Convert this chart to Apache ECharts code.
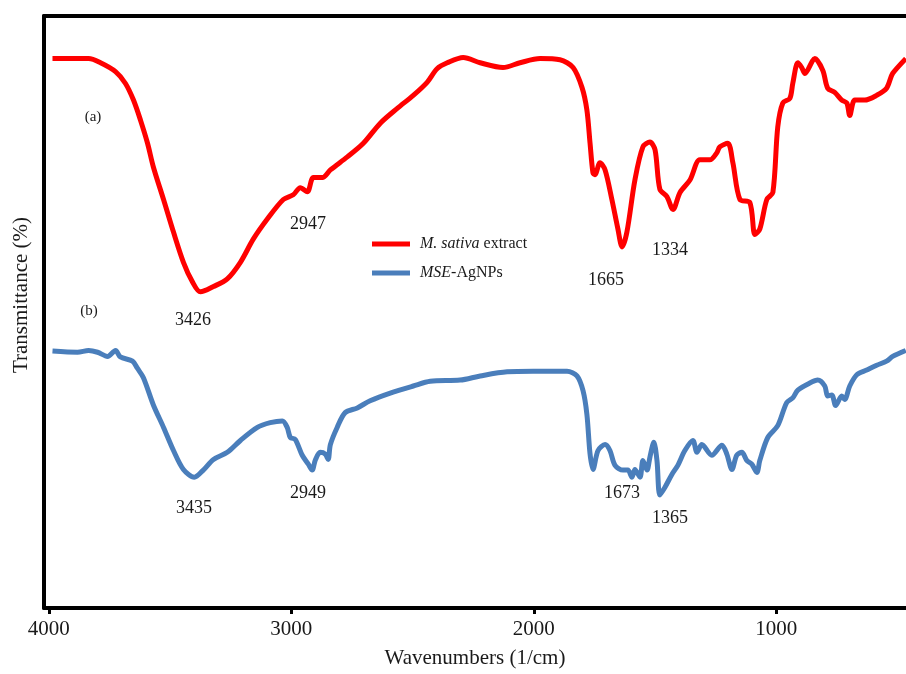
<!DOCTYPE html>
<html>
<head>
<meta charset="utf-8">
<script src="https://cdn.jsdelivr.net/npm/echarts@6/dist/echarts.min.js"></script>
<style>
  html, body { margin: 0; padding: 0; background: #fff; }
  #main { width: 906px; height: 674px; }
</style>
</head>
<body>
<div id="main"></div>
<script>
// wavenumber ticks shown on the bottom axis
var xTicks = [4000, 3000, 2000, 1000];

// (a) M. sativa extract : [wavenumber, transmittance]
var extractSpectrum = [
  [3985, 92.8], [3836, 92.8], [3787, 92.1], [3725, 90.6], [3684, 88.6], [3651, 85.8],
  [3622, 82.4], [3593, 78.5], [3569, 74.5], [3527, 69.0], [3486, 63.5], [3445, 58.4],
  [3408, 55.1], [3375, 53.4], [3321, 54.3], [3264, 55.6], [3210, 58.4], [3157, 62.3],
  [3099, 65.7], [3033, 69.0], [2992, 69.8], [2963, 71.0], [2934, 70.3], [2909, 72.7],
  [2872, 72.7], [2839, 74.0], [2769, 76.2], [2703, 78.5], [2633, 81.9], [2563, 84.4],
  [2497, 86.6], [2440, 88.8], [2399, 91.1], [2357, 92.1], [2291, 93.0], [2221, 92.1],
  [2127, 91.3], [2057, 92.1], [1974, 92.8], [1892, 92.6], [1838, 91.3], [1801, 87.9],
  [1781, 84.1], [1768, 78.5], [1756, 73.5], [1748, 73.2], [1727, 75.2], [1706, 74.0],
  [1678, 69.0], [1653, 64.0], [1636, 61.0], [1616, 63.5], [1583, 72.3], [1550, 77.9],
  [1521, 78.7], [1500, 77.4], [1480, 70.7], [1451, 69.5], [1426, 67.3], [1397, 70.2],
  [1356, 72.3], [1315, 75.7], [1274, 75.7], [1245, 76.9], [1233, 77.9], [1200, 78.5],
  [1179, 75.2], [1150, 69.0], [1109, 68.5], [1088, 63.1], [1068, 64.0], [1039, 69.0],
  [1014, 70.2], [994, 81.2], [973, 85.3], [944, 86.1], [932, 88.6], [911, 92.1],
  [895, 91.3], [882, 90.3], [841, 92.8], [808, 90.8], [788, 87.8], [759, 87.1],
  [730, 85.8], [709, 85.3], [697, 83.2], [676, 85.8], [635, 85.8], [586, 86.6],
  [545, 87.8], [520, 90.3], [466, 92.8]
];

// (b) MSE-AgNPs : [wavenumber, transmittance]
var agnpSpectrum = [
  [3985, 43.4], [3882, 43.2], [3836, 43.5], [3799, 43.2], [3758, 42.5], [3725, 43.5],
  [3705, 42.4], [3655, 41.7], [3635, 40.5], [3610, 38.9], [3569, 34.3], [3527, 30.5],
  [3486, 26.6], [3445, 23.4], [3400, 22.1], [3363, 23.3], [3321, 25.1], [3264, 26.3],
  [3210, 28.3], [3140, 30.5], [3087, 31.3], [3037, 31.6], [3017, 30.5], [3004, 28.8],
  [2984, 28.5], [2955, 25.8], [2930, 24.3], [2914, 23.3], [2901, 25.0], [2881, 26.3],
  [2860, 26.0], [2848, 25.1], [2839, 27.6], [2811, 30.5], [2778, 33.0], [2728, 33.8],
  [2675, 35.0], [2592, 36.3], [2497, 37.5], [2427, 38.3], [2304, 38.5], [2221, 39.2],
  [2110, 39.9], [2003, 40.0], [1863, 40.0], [1822, 39.2], [1797, 36.7], [1781, 32.7],
  [1768, 26.0], [1756, 23.4], [1735, 26.6], [1706, 27.6], [1686, 26.6], [1665, 24.1],
  [1632, 23.3], [1612, 23.3], [1595, 22.1], [1583, 23.4], [1562, 22.1], [1550, 24.9],
  [1533, 23.3], [1521, 25.5], [1505, 28.0], [1492, 24.9], [1480, 19.1], [1459, 20.4],
  [1430, 22.6], [1406, 24.1], [1377, 26.6], [1344, 28.3], [1327, 26.3], [1307, 27.6],
  [1266, 25.8], [1224, 27.5], [1204, 26.0], [1183, 23.4], [1163, 25.8], [1142, 26.3],
  [1121, 24.9], [1101, 24.3], [1080, 22.9], [1068, 24.9], [1035, 28.8], [994, 30.8],
  [957, 34.7], [932, 35.5], [911, 36.8], [862, 38.0], [829, 38.5], [800, 37.5],
  [788, 35.8], [771, 36.0], [755, 34.2], [730, 35.8], [718, 35.2], [697, 37.5],
  [668, 39.4], [627, 40.2], [586, 41.0], [545, 41.7], [520, 42.5], [466, 43.5]
];

// peak annotations : [wavenumber, transmittance, text]
var extractPeaks = [[3405, 48.6, '3426'], [2931, 64.8, '2947'], [1702, 55.4, '1665'], [1438, 60.5, '1334']];
var agnpPeaks = [[3401, 16.8, '3435'], [2931, 19.3, '2949'], [1636, 19.3, '1673'], [1438, 15.1, '1365']];
var panelTags = [[3818, 82.9, '(a)'], [3834, 50.1, '(b)']];

var serif = 'Liberation Serif';
var ink = '#1a1a1a';

function peakMarks(list, size) {
  return list.map(function (p) {
    return {
      coord: [p[0], p[1]],
      value: p[2],
      label: { fontSize: size }
    };
  });
}

var myChart = echarts.init(document.getElementById('main'));

var option = {
  animation: false,
  backgroundColor: '#fff',
  grid: { left: 44, right: 0, top: 16, bottom: 61, containLabel: false },
  legend: {
    orient: 'vertical',
    left: 367,
    top: 231,
    itemWidth: 38,
    itemHeight: 5,
    itemGap: 13,
    icon: 'rect',
    data: ['M. sativa extract', 'MSE-AgNPs'],
    formatter: function (name) {
      if (name === 'M. sativa extract') return '{i|M. sativa} extract';
      return '{i|MSE}-AgNPs';
    },
    textStyle: {
      fontFamily: serif,
      fontSize: 16,
      lineHeight: 16,
      color: ink,
      padding: [0, 0, 0, 5],
      rich: { i: { fontStyle: 'italic', fontFamily: serif, fontSize: 16, color: ink } }
    }
  },
  xAxis: [{
    type: 'value',
    inverse: true,
    min: 465,
    max: 4020,
    name: 'Wavenumbers (1/cm)',
    nameLocation: 'middle',
    nameGap: 40,
    nameTextStyle: { fontFamily: serif, fontSize: 21, color: ink },
    axisLine: { show: true, lineStyle: { color: '#000', width: 4 } },
    axisTick: { show: true, length: 6, lineStyle: { color: '#000', width: 3 }, customValues: xTicks },
    axisLabel: {
      fontFamily: serif, fontSize: 21, color: ink, margin: 11, customValues: xTicks,
      formatter: function (v) { return String(v); }
    },
    splitLine: { show: false }
  }, {
    type: 'value',
    position: 'top',
    inverse: true,
    min: 465,
    max: 4020,
    axisLine: { show: true, lineStyle: { color: '#000', width: 4 } },
    axisTick: { show: false },
    axisLabel: { show: false },
    splitLine: { show: false }
  }],
  yAxis: {
    type: 'value',
    min: 0,
    max: 100,
    name: 'Transmittance (%)',
    nameLocation: 'middle',
    nameGap: 12,
    nameTextStyle: { fontFamily: serif, fontSize: 21, color: ink, padding: [0, 0, 0, 34] },
    axisLine: { show: true, lineStyle: { color: '#000', width: 4 } },
    axisTick: { show: false },
    axisLabel: { show: false },
    splitLine: { show: false }
  },
  series: [{
    name: 'M. sativa extract',
    type: 'line',
    data: extractSpectrum,
    smooth: 0.3,
    showSymbol: false,
    color: '#ff0000',
    lineStyle: { color: '#ff0000', width: 5 },
    markPoint: {
      symbol: 'circle',
      symbolSize: 1,
      itemStyle: { color: 'rgba(0,0,0,0)' },
      label: { show: true, position: 'inside', formatter: '{c}', fontFamily: serif, color: ink },
      data: peakMarks(extractPeaks, 18).concat(peakMarks(panelTags, 15))
    }
  }, {
    name: 'MSE-AgNPs',
    type: 'line',
    data: agnpSpectrum,
    smooth: 0.3,
    showSymbol: false,
    color: '#4a7ebb',
    lineStyle: { color: '#4a7ebb', width: 5 },
    markPoint: {
      symbol: 'circle',
      symbolSize: 1,
      itemStyle: { color: 'rgba(0,0,0,0)' },
      label: { show: true, position: 'inside', formatter: '{c}', fontFamily: serif, color: ink },
      data: peakMarks(agnpPeaks, 18)
    }
  }]
};

myChart.setOption(option);
</script>
</body>
</html>
